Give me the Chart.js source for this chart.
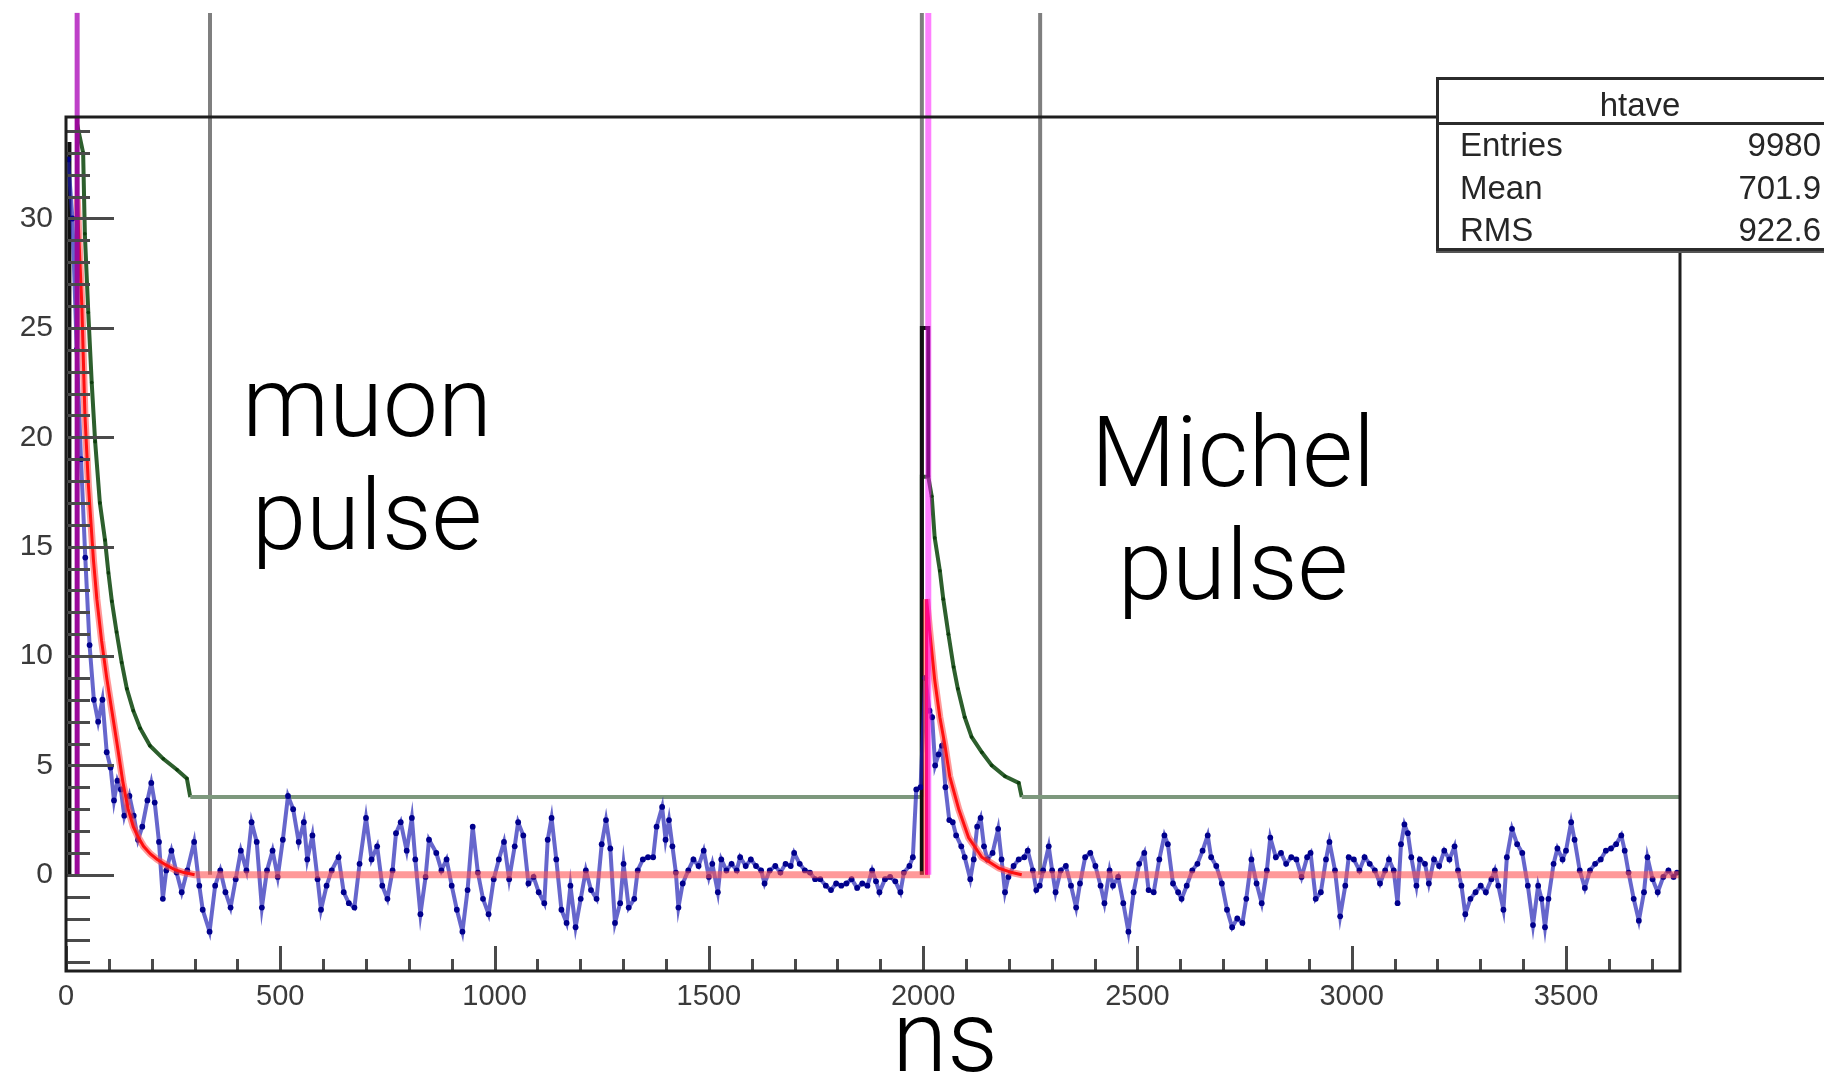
<!DOCTYPE html>
<html>
<head>
<meta charset="utf-8">
<script src="https://cdn.jsdelivr.net/npm/chart.js@4.4.1/dist/chart.umd.min.js"></script>
<style>
html,body{margin:0;padding:0;background:#fff;}
#wrap{position:relative;width:1824px;height:1074px;overflow:hidden;background:#fff;}
#c{position:absolute;left:0;top:0;}
.note{position:absolute;width:400px;font-family:Roboto,'Liberation Sans',sans-serif;font-weight:300;font-size:98px;line-height:113px;color:#000;text-align:center;white-space:nowrap;}
#xtitle{position:absolute;left:845px;top:987px;width:200px;font-family:Roboto,'Liberation Sans',sans-serif;font-weight:300;font-size:100px;line-height:100px;color:#000;text-align:center;white-space:nowrap;}
#stats{position:absolute;left:1436px;top:77px;width:408px;height:174px;border:3px solid #2b2b2b;box-sizing:border-box;background:#fff;font-family:'Liberation Sans',Arial,sans-serif;font-size:33px;color:#262626;box-shadow:0 2px 0 #555;}
#stats .t{position:absolute;left:0;right:0;top:4px;height:42px;line-height:42px;text-align:center;}
#stats .sep{position:absolute;left:0;right:0;top:42px;height:3px;background:#2b2b2b;}
#stats .r{position:absolute;left:21px;right:20px;height:40px;line-height:40px;}
#stats .r .v{position:absolute;right:0;top:0;}
</style>
</head>
<body>
<div id="wrap">
  <canvas id="c" width="1824" height="1074"></canvas>
  <div class="note" style="left:167px;top:346px;">muon<br>pulse</div>
  <div class="note" style="left:1033px;top:396px;">Michel<br>pulse</div>
  <div id="xtitle"></div>
  <div id="stats"></div>
</div>
<script>
// ---------------- data ----------------
const xMin = 0, xMax = 3766;          // ns
const yMin = -4.4, yMax = 34.64;
const xTickNs = [0, 500, 1000, 1500, 2000, 2500, 3000, 3500];
const yTickVals = [0, 5, 10, 15, 20, 25, 30];
const xMinorStep = 100, yMinorStep = 1;
const xAxisTitle = 'ns';

// averaged waveform (blue histogram "htave")
const blueTimeNs = [
  5,15,25,35,45,55,65,75,85,95,
  104,112,120,128,136,148,158,168,178,190,
  199,207,217,226,234,246,258,270,283,299,
  311,319,335,348,360,372,384,396,408,421,
  433,445,457,469,482,494,506,518,530,543,
  555,563,575,587,595,608,620,636,648,660,
  673,685,700,713,726,738,750,762,770,781,
  795,807,815,827,839,847,864,876,888,900,
  912,925,937,949,961,973,986,998,1010,1022,
  1034,1047,1055,1067,1079,1091,1103,1116,1124,1133,
  1144,1156,1168,1177,1189,1201,1213,1225,1238,1250,
  1260,1270,1281,1293,1301,1313,1326,1334,1346,1358,
  1370,1378,1391,1399,1407,1415,1423,1429,1439,1452,
  1464,1476,1488,1500,1508,1521,1529,1541,1553,1565,
  1573,1586,1598,1610,1622,1630,1642,1655,1667,1679,
  1691,1699,1712,1724,1736,1748,1760,1773,1785,1797,
  1809,1821,1833,1846,1858,1870,1881,1890,1898,1911,
  1923,1935,1947,1955,1968,1976,1984,1994,2005,2015,
  2021,2028,2036,2044,2052,2061,2069,2077,2089,2097,
  2110,2118,2126,2134,2142,2150,2162,2175,2183,2191,
  2199,2211,2223,2236,2244,2256,2264,2272,2280,2293,
  2301,2309,2321,2333,2345,2357,2366,2378,2390,2402,
  2414,2423,2435,2443,2455,2467,2479,2491,2504,2516,
  2526,2538,2551,2563,2571,2583,2595,2603,2615,2628,
  2640,2652,2664,2672,2684,2697,2709,2721,2733,2745,
  2754,2766,2778,2790,2802,2810,2823,2835,2847,2859,
  2871,2883,2896,2904,2916,2928,2940,2948,2961,2973,
  2985,2993,3005,3018,3030,3042,3054,3066,3078,3087,
  3098,3107,3115,3123,3131,3139,3151,3159,3171,3180,
  3192,3204,3216,3228,3240,3248,3256,3265,3277,3289,
  3301,3313,3326,3334,3342,3354,3362,3374,3386,3398,
  3411,3423,3435,3443,3451,3459,3471,3480,3492,3500,
  3512,3520,3532,3544,3556,3568,3581,3593,3605,3617,
  3629,3637,3646,3658,3670,3682,3690,3702,3714,3727,
  3739,3751,3759
];
const blueValue = [
  32.7,30.0,24.0,19.0,14.5,10.5,8.0,7.0,8.0,5.6,
  4.9,3.4,4.3,3.9,2.7,3.6,2.7,1.6,2.2,3.4,
  4.2,3.3,1.5,-1.1,0.2,1.1,0.1,-0.8,0.2,1.5,
  -0.5,-1.6,-2.6,-0.5,0.2,-0.8,-1.5,-0.2,1.1,0.2,
  2.4,1.5,-1.5,0.2,1.1,-0.1,1.6,3.6,3.0,1.5,
  2.4,0.7,1.8,-0.2,-1.6,-0.5,0.2,0.8,-0.8,-1.3,
  -1.5,0.5,2.6,0.7,1.3,-0.5,-1.1,0.2,1.9,2.4,
  1.1,2.6,0.7,-1.8,-0.1,1.6,1.0,0.2,0.7,-0.5,
  -1.6,-2.6,-0.7,2.2,0.1,-1.1,-1.8,-0.2,0.7,1.5,
  -0.2,1.3,2.4,1.8,-0.4,-0.1,-0.8,-1.3,1.6,2.6,
  0.7,-1.6,-2.2,-0.5,-2.4,-1.1,0.2,-0.7,-1.1,1.4,
  2.5,1.2,-2.2,-1.3,0.5,-1.5,-1.1,0.2,0.7,0.8,
  0.8,2.2,3.1,1.6,2.5,1.3,0.1,-1.5,-0.4,0.2,
  0.7,0.4,1.1,-0.1,0.5,-0.8,0.7,0.2,0.5,0.2,
  0.8,0.4,0.7,0.4,0.2,-0.4,0.2,0.4,0.1,0.5,
  0.4,1.0,0.5,0.2,0.1,-0.2,-0.2,-0.5,-0.7,-0.4,
  -0.5,-0.4,-0.2,-0.6,-0.4,-0.5,0.2,-0.3,-0.8,-0.2,
  -0.1,-0.3,-0.8,0.1,0.4,0.8,3.9,4.0,9.0,7.5,
  7.2,5.0,5.5,5.9,4.0,2.5,2.4,1.8,1.3,0.8,
  -0.2,0.7,2.2,2.6,1.3,0.7,1.0,2.1,0.7,-0.8,
  -0.1,0.4,0.7,0.8,1.1,0.2,-0.7,-0.5,0.2,1.3,
  0.2,-0.8,0.2,0.4,-0.5,-1.5,-0.4,0.8,1.0,0.4,
  -0.5,-1.3,0.2,-0.5,-0.1,-1.3,-2.6,-0.8,0.5,1.0,
  -0.7,-0.8,0.7,1.8,1.4,-0.4,-0.8,-1.1,-0.5,0.2,
  0.5,1.1,1.8,0.8,0.4,-0.4,-1.6,-2.4,-2.0,-2.2,
  -1.1,0.7,-0.4,-1.3,0.2,1.7,0.8,1.0,0.5,0.8,
  0.7,-0.1,0.8,1.0,-1.1,-0.8,0.7,1.5,0.2,-1.9,
  -0.5,0.8,0.7,0.2,0.8,0.5,0.2,-0.4,0.2,0.7,
  0.2,-1.3,1.4,2.3,1.9,0.8,-0.5,0.7,0.5,-0.4,
  0.7,0.4,1.1,0.7,1.3,0.2,-0.5,-1.8,-1.1,-0.8,
  -0.5,-0.8,-0.2,0.2,-0.5,-1.6,0.8,2.1,1.4,1.0,
  -0.5,-2.3,-0.5,-1.1,-2.4,-1.1,0.5,1.2,0.7,1.1,
  2.4,1.6,0.2,-0.6,0.2,0.5,0.7,1.1,1.2,1.4,
  1.8,1.1,0.1,-1.1,-2.1,-0.8,0.8,-0.2,-0.8,-0.1,
  0.2,-0.1,0.1
];

// exponential fits (red)
const fitTimeNs = [26,37,44,52,64,72,83,95,107,119,133,145,157,169,181,197,213,233,254,275,300,
  2008,2008,2015,2027,2039,2051,2062,2083,2106,2137,2177,2207,2230,3766];
const fitValue  = [31.0,26.0,21.1,17.9,14.4,12.6,10.7,9.0,7.5,6.0,4.2,3.0,2.2,1.7,1.3,0.95,0.7,0.45,0.23,0.1,0,
  0,12.6,11.2,8.9,7.2,5.9,4.5,3.0,1.7,0.8,0.3,0.1,0,0];

// green histogram
const greenTimeNs = [26,40,44,52,60,68,79,91,99,107,118,130,142,157,173,196,227,259,282,290,
  1997,1997,2012,2020,2027,2039,2047,2059,2071,2081,2097,2113,2137,2160,2191,2223,2230,3766];
const greenValue  = [34.3,33.0,29.3,25.7,22.5,19.8,17.0,15.3,13.8,12.5,11.1,9.7,8.5,7.5,6.7,5.9,5.3,4.8,4.4,3.55,
  3.55,18.2,18.2,17.3,15.4,13.9,12.6,11.0,9.5,8.5,7.2,6.3,5.6,5.0,4.5,4.2,3.55,3.55];
const greenBaseline = 3.55;

// black histogram edges
const blackTimeNs = [8, 8, null, 1997, 1997, 2012, 2012];
const blackValue  = [0, 33.5, null, 0, 25, 25, 18.2];

// vertical marker lines
const cutLineNs = [336, 1997, 2273];
const muonMarkNs = 26, michelMarkNs = 2012;
const lineTopValue = 39.4;

// stats box
const statsTitle = 'htave';
const statsLabels = ['Entries', 'Mean', 'RMS'];
const statsValues = ['9980', '701.9', '922.6'];

// ---------------- build ----------------
const pts = (xs, ys) => xs.map((x, i) => ({x: x === null ? NaN : x, y: ys[i]}));
const vline = t => [{x: t, y: 0}, {x: t, y: yMax}, {x: t, y: lineTopValue}];

const datasets = [];
cutLineNs.forEach(t => datasets.push({
  data: vline(t), borderColor: 'rgba(0,0,0,0.5)', borderWidth: 4, pointRadius: 0, clip: false, order: 60
}));
datasets.push({
  data: pts(greenTimeNs, greenValue), borderWidth: 4, order: 50, clip: false,
  borderColor: 'rgb(70,115,70)',
  segment: { borderColor: c => (c.p0.parsed.y === greenBaseline && c.p1.parsed.y === greenBaseline) ? 'rgb(125,152,125)' : 'rgb(45,95,45)' },
  pointRadius: c => (c.raw && c.raw.y > 3.6 ? 1.8 : 0), pointBackgroundColor: '#0d3d0d', pointBorderWidth: 0
});
datasets.push({
  data: pts(blackTimeNs, blackValue), borderColor: '#111', borderWidth: 4, pointRadius: 0, spanGaps: false, order: 45
});
datasets.push({
  data: pts(blueTimeNs, blueValue), borderColor: 'rgba(30,30,180,0.68)', borderWidth: 4,
  pointRadius: 2.9, pointBackgroundColor: '#00008c', pointBorderWidth: 0, order: 40
});
datasets.push({
  data: pts(fitTimeNs, fitValue), borderColor: 'rgba(255,80,80,0.58)', borderWidth: 7, pointRadius: 0, order: 30
});
datasets.push({
  data: pts(fitTimeNs, fitValue), borderWidth: 3, pointRadius: 0, order: 29,
  borderColor: '#ff0000',
  segment: { borderColor: c => (c.p0.parsed.y === 0 && c.p1.parsed.y === 0) ? 'rgba(0,0,0,0)' : '#ff1010' }
});
datasets.push({
  data: vline(muonMarkNs), borderWidth: 5, pointRadius: 0, clip: false, order: 10,
  borderColor: '#990099',
  segment: { borderColor: c => c.p0.parsed.y >= yMax - 0.01 ? 'rgb(190,64,200)' : '#9a0a9a' }
});
datasets.push({
  data: vline(michelMarkNs), borderColor: 'rgba(255,0,255,0.5)', borderWidth: 6, pointRadius: 0, clip: false, order: 9
});

const frameTicks = {
  id: 'frameTicks',
  afterDatasetsDraw(chart) {
    const {ctx, chartArea: a, scales: {x, y}} = chart;
    ctx.save();
    ctx.strokeStyle = '#4a4a4a';
    ctx.lineWidth = 3;
    ctx.beginPath();
    for (let v = Math.ceil(yMin); v <= yMax; v += yMinorStep) {
      const py = Math.round(y.getPixelForValue(v)) + 0.5;
      const len = (v % 5 === 0) ? 48 : 24;
      ctx.moveTo(a.left, py); ctx.lineTo(a.left + len, py);
    }
    for (let v = xMin; v <= xMax; v += xMinorStep) {
      const px = Math.round(x.getPixelForValue(v)) + 0.5;
      const len = (v % 500 === 0) ? 25 : 12;
      ctx.moveTo(px, a.bottom); ctx.lineTo(px, a.bottom - len);
    }
    ctx.stroke();
    ctx.strokeStyle = '#1e1e1e';
    ctx.lineWidth = 3;
    ctx.strokeRect(a.left, a.top, a.right - a.left, a.bottom - a.top);
    ctx.restore();
  }
};

new Chart(document.getElementById('c'), {
  type: 'line',
  data: { datasets },
  options: {
    responsive: false, animation: false, devicePixelRatio: 1,
    layout: { padding: { top: 117, right: 144, bottom: 0, left: 0 } },
    elements: { line: { tension: 0 } },
    plugins: { legend: { display: false }, tooltip: { enabled: false } },
    scales: {
      x: {
        type: 'linear', min: xMin, max: xMax,
        grid: { display: false, drawTicks: false }, border: { display: false },
        afterBuildTicks: s => { s.ticks = xTickNs.map(v => ({ value: v })); },
        afterFit: s => { s.height = 103; },
        ticks: { autoSkip: false, maxRotation: 0, padding: 9, color: '#3a3a3a',
                 callback: v => String(v),
                 font: { family: "'Liberation Sans', Arial, sans-serif", size: 29 } }
      },
      y: {
        type: 'linear', min: yMin, max: yMax,
        grid: { display: false, drawTicks: false }, border: { display: false },
        afterBuildTicks: s => { s.ticks = yTickVals.map(v => ({ value: v })); },
        afterFit: s => { s.width = 66; },
        ticks: { padding: 13, color: '#3a3a3a', callback: v => String(v),
                 font: { family: "'Liberation Sans', Arial, sans-serif", size: 30 } }
      }
    }
  },
  plugins: [frameTicks]
});

document.getElementById('xtitle').textContent = xAxisTitle;

// stats box text
const st = document.getElementById('stats');
st.innerHTML = '<div class="t">' + statsTitle + '</div><div class="sep"></div>' +
  statsLabels.map((l, i) => '<div class="r" style="top:' + (45 + i * 42.5) + 'px"><span>' + l +
  '</span><span class="v">' + statsValues[i] + '</span></div>').join('');
</script>
</body>
</html>
